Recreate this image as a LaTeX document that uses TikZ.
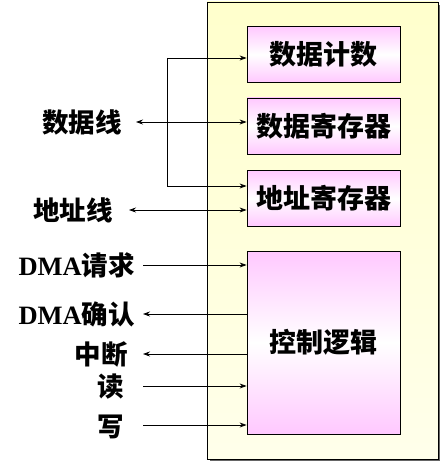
\documentclass[tikz,border=0pt]{standalone}
\usepackage{fontspec}
\setmainfont{Liberation Serif}
\newfontfamily\cjk{Noto Sans CJK SC}
\usetikzlibrary{arrows.meta}
\definecolor{boxpink}{HTML}{FFC8FF}
\definecolor{paleyellow}{HTML}{FFFFCC}
\tikzset{
  unit/.style={draw=black, line width=0.8pt, minimum width=153pt, inner sep=0pt,
    top color=boxpink, bottom color=boxpink, middle color=white,
    font=\cjk\bfseries\fontsize{27}{27}\selectfont},
  lbl/.style={anchor=east, inner sep=0pt, font=\bfseries\fontsize{26.5}{26.5}\selectfont},
  sig/.style={line width=0.8pt, -{Stealth[length=7pt,width=5pt]}},
  bisig/.style={line width=0.8pt, {Stealth[length=7pt,width=5pt]}-{Stealth[length=7pt,width=5pt]}},
  wire/.style={line width=0.8pt}
}
\begin{document}
\begin{tikzpicture}[x=1pt,y=-1pt]
\useasboundingbox (0,0) rectangle (442,462);
% outer frame with shadow
\fill[gray!80!black] (210,5) rectangle (440,461);
\shade[top color=paleyellow, bottom color=white!60!paleyellow, draw=black, line width=0.8pt] (207,2) rectangle (438,459);
% inner units
\node[unit, minimum height=56pt] (b1) at (323.5,54.5) {数据计数};
\node[unit, minimum height=56pt] (b2) at (323.5,126) {数据寄存器};
\node[unit, minimum height=56pt] (b3) at (323.5,198.5) {地址寄存器};
\node[unit, minimum height=183pt] (ctl) at (323.5,342.5) {控制逻辑};
% labels
\node[lbl] (dl) at (122,122) {\cjk 数据线};
\node[lbl] (al) at (113,210) {\cjk 地址线};
\node[lbl] (req) at (135,265) {DMA\cjk 请求};
\node[lbl] (ack) at (135,314) {DMA\cjk 确认};
\node[lbl] (intr) at (128,354) {\cjk 中断};
\node[lbl] (rd) at (124,387) {\cjk 读};
\node[lbl] (wr) at (124,427) {\cjk 写};
% data bus
\coordinate (j1) at (167,58);
\coordinate (j2) at (167,186);
\coordinate (dls) at (136,122);
\coordinate (als) at (129,210);
\draw[bisig] (dls) -- (dls -| b2.west);
\draw[wire] (j1) -- (j2);
\draw[sig] (j1) -- (j1 -| b1.west);
\draw[sig] (j2) -- (j2 -| b3.west);
\draw[bisig] (als) -- (als -| b3.west);
% control signals
\coordinate (c1) at (143,265);
\coordinate (c2) at (143,314);
\coordinate (c3) at (143,354);
\coordinate (c4) at (143,386);
\coordinate (c5) at (143,425);
\draw[sig] (c1) -- (c1 -| ctl.west);
\draw[sig] (c2 -| ctl.west) -- (c2);
\draw[sig] (c3 -| ctl.west) -- (c3);
\draw[sig] (c4) -- (c4 -| ctl.west);
\draw[sig] (c5) -- (c5 -| ctl.west);
\end{tikzpicture}
\end{document}
